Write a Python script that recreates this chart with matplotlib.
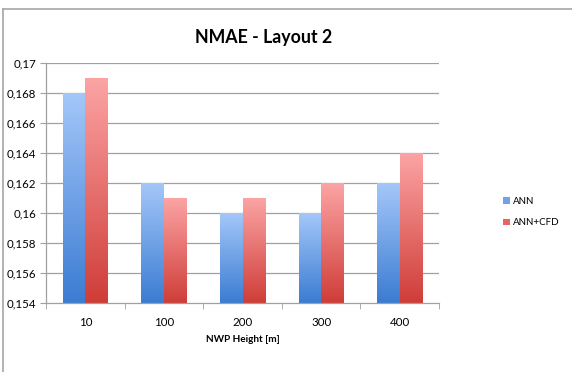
import numpy as np
import matplotlib
matplotlib.use("Agg")
import matplotlib.pyplot as plt
from matplotlib.colors import LinearSegmentedColormap
from matplotlib.patches import Patch
from matplotlib.lines import Line2D

plt.rcParams['font.family'] = ['Lato', 'DejaVu Sans']

categories = ["10", "100", "200", "300", "400"]
ann = [0.168, 0.162, 0.160, 0.160, 0.162]
ann_cfd = [0.169, 0.161, 0.161, 0.162, 0.164]
yticks = [0.154, 0.156, 0.158, 0.160, 0.162, 0.164, 0.166, 0.168, 0.170]
ytick_labels = ["0,154", "0,156", "0,158", "0,16", "0,162", "0,164", "0,166", "0,168", "0,17"]
series_names = ["ANN", "ANN+CFD"]

ymin, ymax = 0.154, 0.170
blue_map = LinearSegmentedColormap.from_list("blue", ["#3b7cd2", "#a4c7f9"])
red_map = LinearSegmentedColormap.from_list("red", ["#cf3d38", "#fca4a4"])

fig = plt.figure(figsize=(5.72, 3.72), dpi=100)
ax = fig.add_axes([46 / 572, 1 - 303 / 372, (439 - 46) / 572, (303 - 63) / 372])

# outer frame of the chart area
border = "#a6a6a6"
fig.add_artist(Line2D([3 / 572, 1], [1 - 9 / 372, 1 - 9 / 372], color=border, lw=1.2, transform=fig.transFigure))
fig.add_artist(Line2D([3 / 572, 3 / 572], [0, 1 - 9 / 372], color=border, lw=1.2, transform=fig.transFigure))

width = 0.285
grad = np.linspace(0, 1, 256).reshape(-1, 1)
x = np.arange(len(categories))
for vals, cmap, off in [(ann, blue_map, -width / 2), (ann_cfd, red_map, width / 2)]:
    for xi, v in zip(x, vals):
        x0 = xi + off - width / 2
        ax.imshow(grad, cmap=cmap, origin="lower", aspect="auto",
                  extent=[x0, x0 + width, ymin, v], zorder=2, interpolation="bilinear")

ax.set_xlim(-0.5, len(categories) - 0.5)
ax.set_ylim(ymin, ymax)

grid_c = "#a0a0a0"
for t in yticks[1:]:
    ax.axhline(t, color=grid_c, lw=0.9, zorder=1)

for s in ["top", "right"]:
    ax.spines[s].set_visible(False)
for s in ["left", "bottom"]:
    ax.spines[s].set_color(grid_c)
    ax.spines[s].set_linewidth(0.9)

ax.set_yticks(yticks)
ax.set_yticklabels(ytick_labels, fontsize=8.3)
ax.tick_params(axis="y", direction="out", length=4, color=grid_c, pad=3)

ax.set_xticks(x)
ax.set_xticklabels(categories, fontsize=8.3)
ax.set_xticks(np.arange(-0.5, len(categories)), minor=True)
ax.tick_params(axis="x", which="major", length=0, pad=10)
ax.tick_params(axis="x", which="minor", direction="out", length=4, color=grid_c)

ax.set_xlabel("NWP Height [m]", fontsize=7.2, fontweight="bold", labelpad=5)

fig.text(264 / 572, 1 - 38 / 372, "NMAE - Layout 2", ha="center", va="center",
         fontsize=12.8, fontweight="bold")

handles = [Patch(facecolor="#6fa3e8"), Patch(facecolor="#e86464")]
fig.legend(handles, series_names, loc="center left", bbox_to_anchor=(494 / 572, 1 - 212 / 372),
           frameon=False, fontsize=7, handlelength=0.7, handleheight=0.7, handletextpad=0.3,
           labelspacing=1.3)

fig.savefig("out.png", dpi=100, facecolor="white")
